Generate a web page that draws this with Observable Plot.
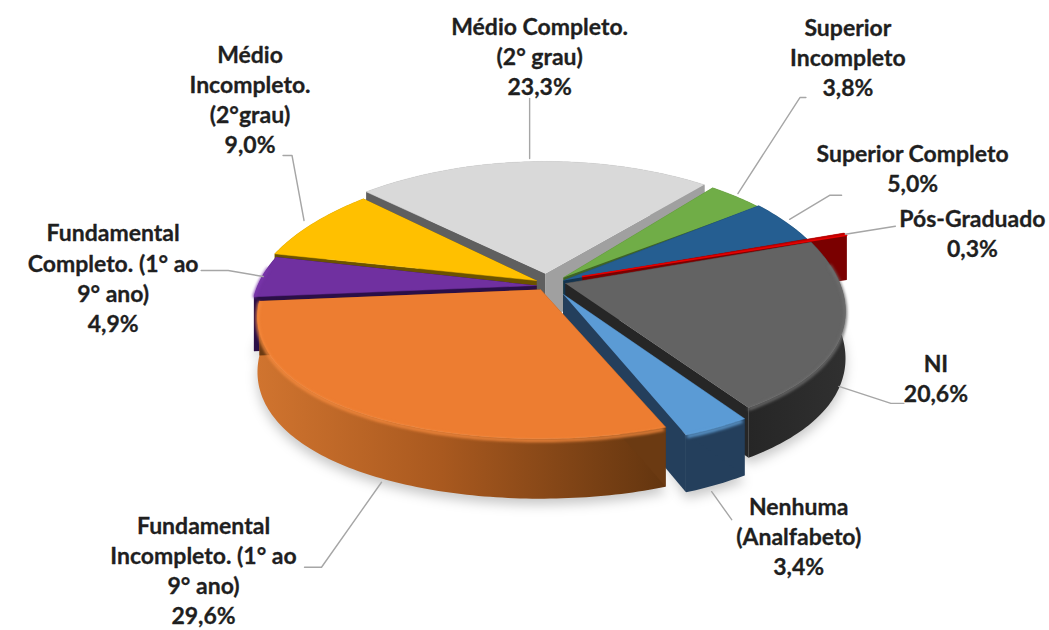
<!DOCTYPE html>
<html><head><meta charset="utf-8">
<style>html,body{margin:0;padding:0;background:#fff}</style>
<script src="https://cdn.jsdelivr.net/npm/d3@7"></script>
<script src="https://cdn.jsdelivr.net/npm/@observablehq/plot@0.6"></script>
</head><body><div id="chart"></div>
<script>
// ---- data (clockwise from the Nenhuma slice) ----
const levels = ["Nenhuma","FundIncompleto","FundCompleto","MedioIncompleto","MedioCompleto","SuperiorIncompleto","SuperiorCompleto","PosGraduado","NI"];
const percents = [3.4,29.6,4.9,9.0,23.3,3.8,5.0,0.3,20.6];
const labelNames = [
  "Nenhuma\n(Analfabeto)",
  "Fundamental\nIncompleto. (1° ao\n9° ano)",
  "Fundamental\nCompleto. (1° ao\n9° ano)",
  "Médio\nIncompleto.\n(2°grau)",
  "Médio Completo.\n(2° grau)",
  "Superior\nIncompleto",
  "Superior Completo",
  "Pós-Graduado",
  "NI"
];
// ---- styles ----
const topColors  = ["#5b9bd5","#ed7d31","#7030a0","#ffc000","#d9d9d9","#70ad47","#255e91","#c00000","#636363"];
const sideColors = ["#243f5c","url(#sideOrange)","#34125a","#8a6c00","#8a8a8a","#3f6327","#14344f","#7a0000","url(#sideGray)"];
const wallStart  = ["#243f5c","#6b3a12","#2b0f47","#6b5200","#5f5f5f","#3f6327","#14344f","#7a0000","#262626"];
const wallEnd    = ["#243f5c","#6b3a12","#2b0f47","#6b5200","#a0a0a0","#3f6327","#14344f","#7a0000","#262626"];
const rimColors  = ["#62a2da","#f58a3e","#7a36ab",null,null,null,null,null,"#6e6e6e"];
// ---- 3D layout of each exploded slice ----
const startDeg = 146.2, cx = 550, cy = 285, rx = 295, ry = 137, perspX = 0.2, perspY = 0.1;
const shiftX = [13,-10,-14,-14,-5,13,13,32,15];
const shiftY = [9,4,0,-5,-12,-8,-5,-9,-2];
const scaleX = [.92,.94,.945,.95,.985,.925,.93,1,.93];
const scaleY = [1,.98,.96,.9,.9,.91,.96,1,1];
const depths = [52,54,54,46,48,46,46,46,46];
const paintOrder = [4,5,3,6,7,2,8,0,1];
// ---- leader and label offsets from each slice's rim anchor ----
const anchorFront = [1,1,0,0,0,0,0,0,1];
const anchorNudge = [[-5,7],[17,9],[1,0],[-9,-3],[-4,-3],[2,-3],[5,-2],[0,0],[-4,9]];
const elbowA = [[20,28],[-60,85],[-35,-6],[-12,-65],[0,-60],[62,-96],[40,-24],[50,-8],[52,17]];
const elbowB = [[20,28],[-77,85],[-62,-6],[-21,-65],[0,-60],[68,-96],[52,-24],[50,-8],[65,17]];
const labelAt = [[87,43.5],[-178,87],[-150,0.5],[-54,-122],[10,-103],[110,-137],[123,-51.5],[127,-1.5],[97,-9]];

const fmt = v => v.toFixed(1).replace(".", ",") + "%";
const rad = Math.PI / 180;
const pie = d3.pie().sort(null).startAngle(startDeg * rad).endAngle((startDeg + 360) * rad)(percents);

function rim(i, deg, drop = 0) {
  const u = Math.sin(deg * rad), v = -Math.cos(deg * rad);
  const wx = 1 / (1 - perspX * v), wy = 1 / (1 - perspY * v);
  return {x: cx + shiftX[i] + rx * scaleX[i] * u * wx,
          y: cy + shiftY[i] + ry * scaleY[i] * v * wy + drop * depths[i] * wy};
}
const apex = (i, drop = 0) => ({x: cx + shiftX[i], y: cy + shiftY[i] + drop * depths[i]});
function arc(i, a0, a1, drop = 0) {
  const n = Math.max(2, Math.ceil(Math.abs(a1 - a0)));
  return d3.range(n + 1).map(k => rim(i, a0 + (a1 - a0) * k / n, drop));
}
const poly = (pts, fill, extra = {}) => Plot.line(pts, {x: "x", y: "y", fill, stroke: "none", ...extra});

const marks = [];
marks.push(() => {
  const defs = d3.create("svg:defs");
  const grad = (id, stops) => {
    const g = defs.append("linearGradient").attr("id", id);
    stops.forEach(([o, c]) => g.append("stop").attr("offset", o).attr("stop-color", c));
  };
  grad("sideOrange", [[0, "#d0742f"], [.45, "#a9591f"], [.8, "#7c4215"], [1, "#63350f"]]);
  grad("sideGray", [[0, "#262626"], [1, "#303030"]]);
  return defs.node();
});

// soft shadow under the pie
const frontOrder = [1, 0, 8, 2];
frontOrder.forEach(i => {
  const a0 = pie[i].startAngle / rad, a1 = pie[i].endAngle / rad;
  const pts = arc(i, a0, a1, 1).map(p => ({x: p.x, y: p.y + 6}));
  marks.push(poly([...pts, apex(i)], "#000", {fillOpacity: .22, imageFilter: "blur(6px)"}));
});

// slices, back to front
paintOrder.forEach(i => {
  const a0 = pie[i].startAngle / rad, a1 = pie[i].endAngle / rad;
  const p0 = rim(i, a0), p1 = rim(i, a1);
  marks.push(poly([...arc(i, a0, a1), ...arc(i, a1, a0, 1)], sideColors[i]));
  marks.push(poly([apex(i), p0, rim(i, a0, 1), apex(i, 1)], wallStart[i]));
  marks.push(poly([apex(i), p1, rim(i, a1, 1), apex(i, 1)], wallEnd[i]));
  marks.push(poly([apex(i), ...arc(i, a0, a1)], topColors[i], {stroke: topColors[i], strokeWidth: .5}));
  if (rimColors[i]) {
    // bevel: a blurred lighter edge where the top meets the side
    const angs = d3.range(Math.ceil(a0), Math.floor(a1) + 1).filter(d => Math.cos(d * rad) < 0.15);
    marks.push(Plot.line(angs.map(d => rim(i, d, .03)), {x: "x", y: "y", stroke: rimColors[i], strokeWidth: 3, imageFilter: "blur(1.6px)"}));
  }
});
// the Pós-Graduado sliver is a bright red edge
{
  const i = 7, a1 = pie[i].endAngle / rad;
  marks.push(Plot.line([apex(i), rim(i, a1)], {x: "x", y: "y", stroke: "#e60000", strokeWidth: 1.5}));
}

// leaders and labels
const anchors = pie.map((p, i) => {
  const mid = (p.startAngle + p.endAngle) / 2 / rad;
  const r = rim(i, mid, anchorFront[i]);
  return {x: r.x + anchorNudge[i][0], y: r.y + anchorNudge[i][1]};
});
const leaderColor = "#a6a6a6";
anchors.forEach((a, i) => {
  const pts = [a, {x: a.x + elbowA[i][0], y: a.y + elbowA[i][1]}, {x: a.x + elbowB[i][0], y: a.y + elbowB[i][1]}];
  marks.push(Plot.line(pts, {x: "x", y: "y", stroke: leaderColor, strokeWidth: 1.4}));
});
const labelRows = anchors.map((a, i) => ({
  x: a.x + labelAt[i][0], y: a.y + labelAt[i][1],
  text: `${labelNames[i]}\n${fmt(percents[i])}`
}));
marks.push(Plot.text(labelRows, {
  x: "x", y: "y", text: "text", fontFamily: "Lato", fontWeight: 700, fontSize: 23,
  lineHeight: 1.31, fill: "#1f1f1f", stroke: "#1f1f1f", strokeWidth: .3, textAnchor: "middle"
}));

const chart = Plot.plot({
  width: 1049, height: 630, margin: 0,
  x: {domain: [0, 1049], range: [0, 1049], axis: null},
  y: {domain: [0, 630], range: [0, 630], axis: null},
  style: {background: "#fff"},
  marks
});
document.getElementById("chart").appendChild(chart);
</script></body></html>
